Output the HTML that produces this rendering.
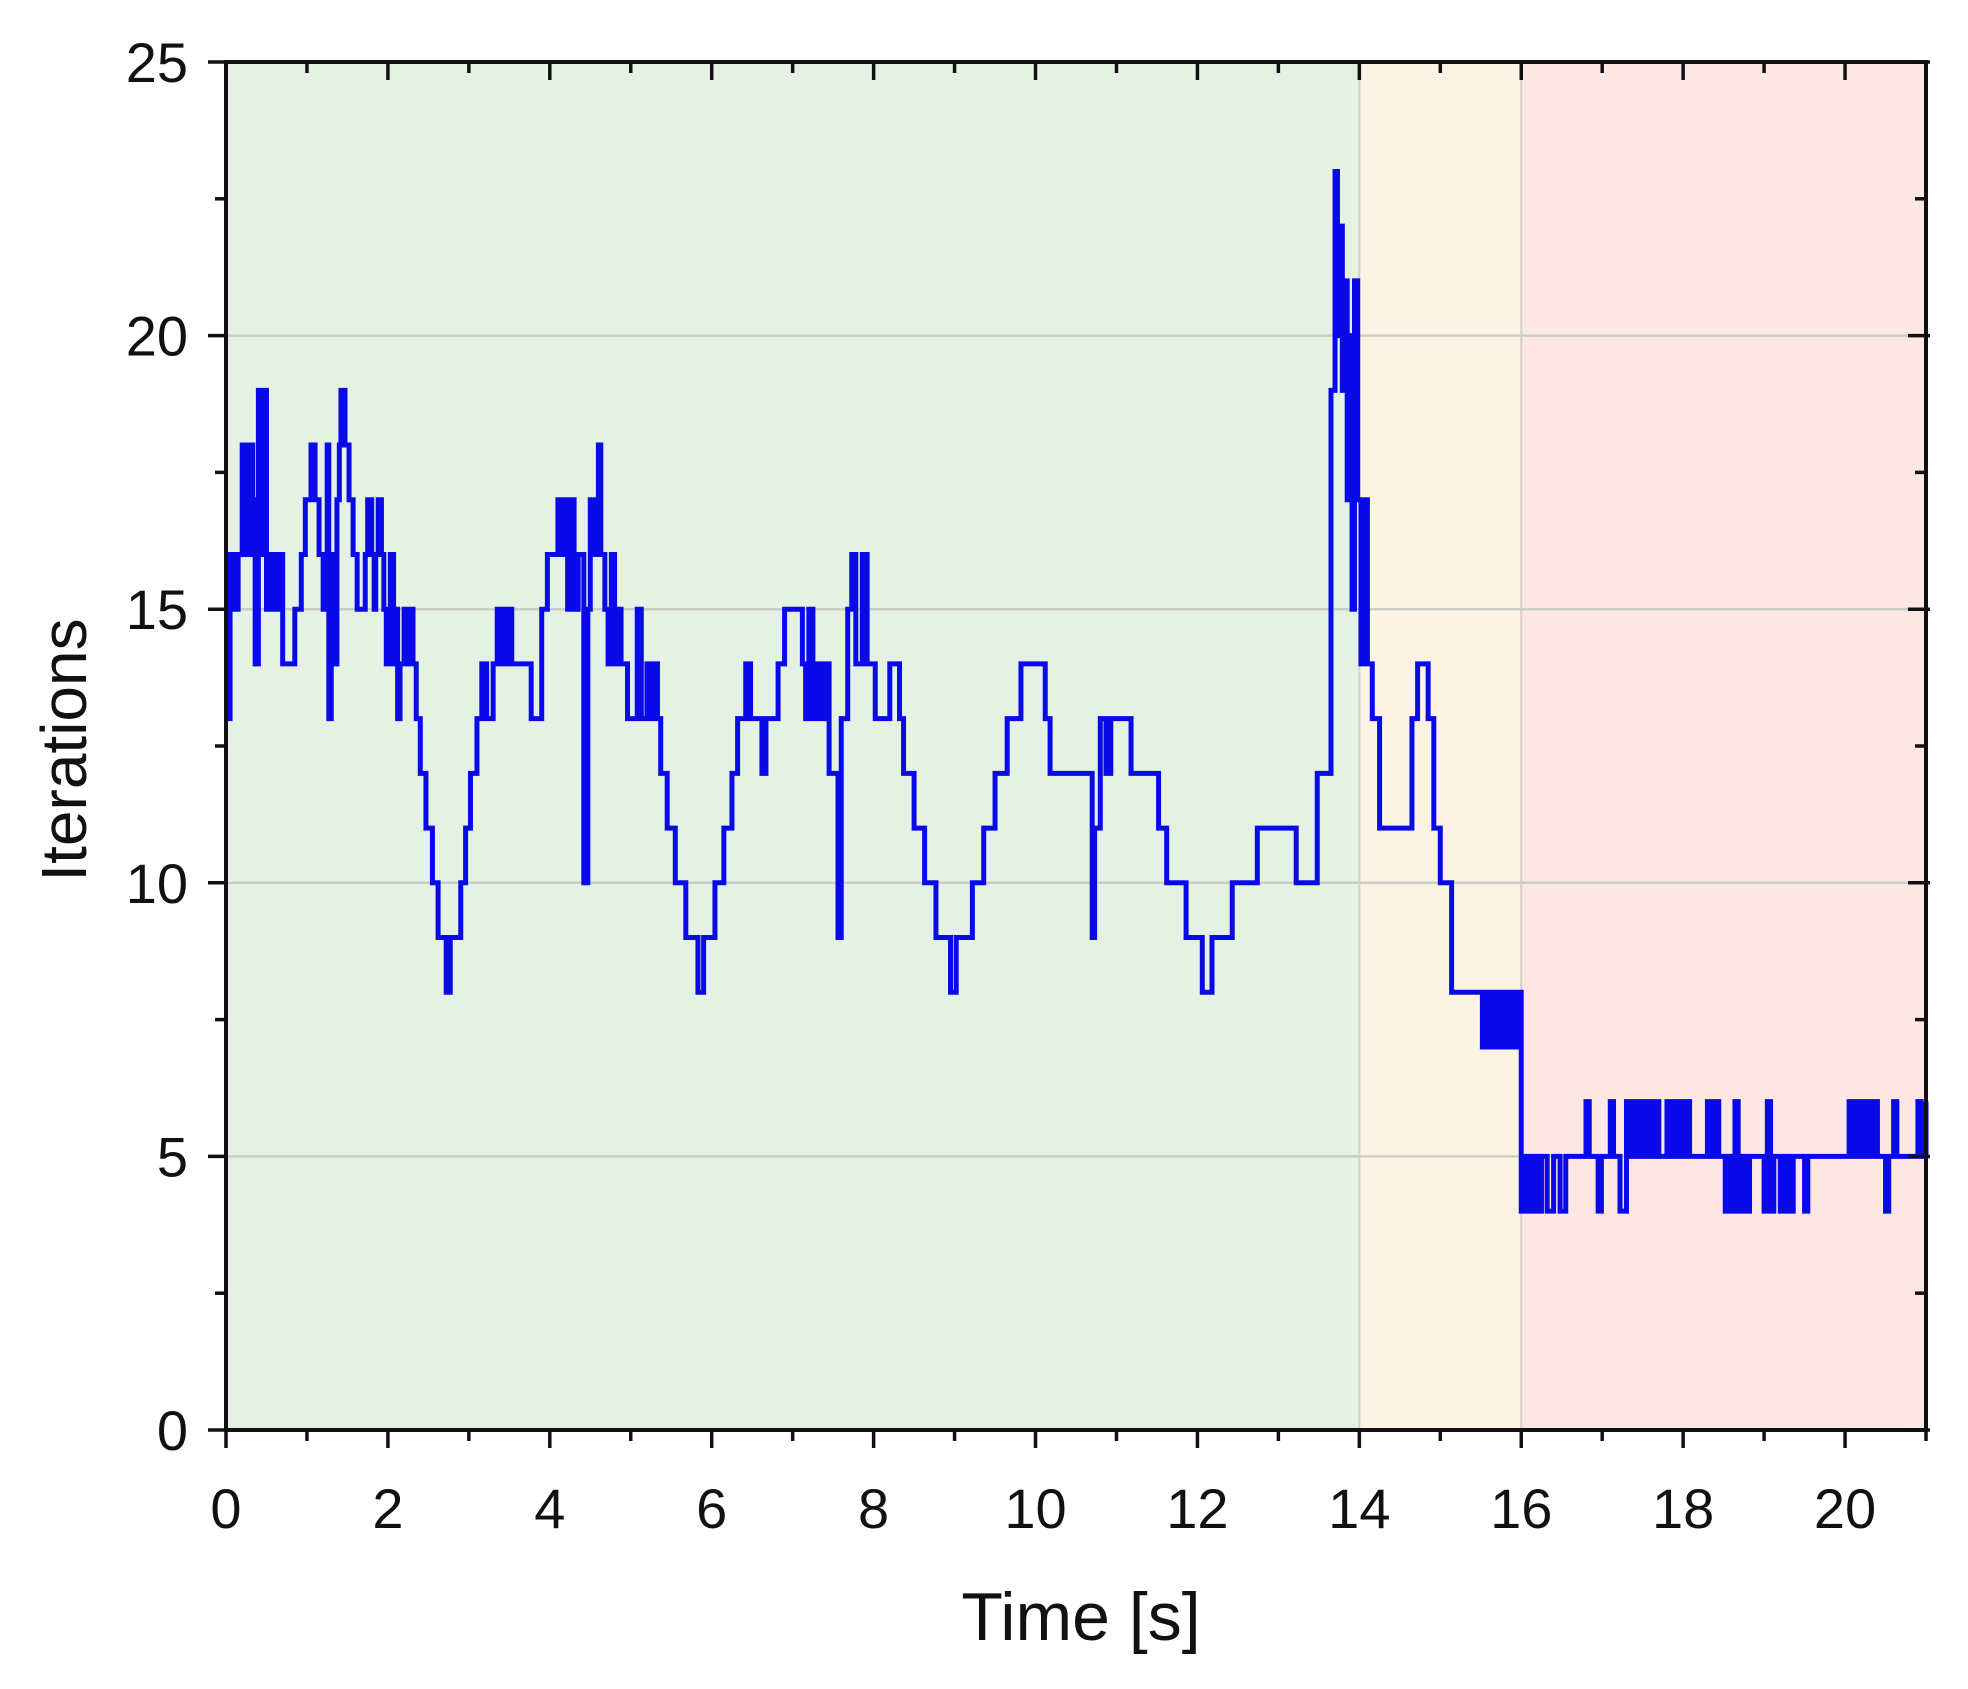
<!DOCTYPE html>
<html><head><meta charset="utf-8"><style>
html,body{margin:0;padding:0;background:#fff;}
svg{display:block;font-family:"Liberation Sans",Arial,sans-serif;}
</style></head><body>
<svg id="chart" width="1968" height="1689" viewBox="0 0 1968 1689" xmlns="http://www.w3.org/2000/svg">
<g id="bg"></g>
<g id="grid"></g>
<path id="series" fill="none" stroke="#0a0ae8" stroke-width="5" stroke-linejoin="miter"></path>
<g id="axes"></g>
<text x="1081" y="1640" font-size="68" text-anchor="middle" fill="#111">Time [s]</text>
<text x="0" y="0" font-size="64" text-anchor="middle" fill="#111" transform="translate(86,750) rotate(-90)">Iterations</text>
</svg>
<script>
const times = [
0,0.05,0.1,0.15,0.2,0.25,0.3,0.33,0.36,0.4,0.43,0.47,0.5,0.55,0.6,0.65,0.7,0.85,0.93,0.98,1.05,1.1,1.15,1.2,1.25,1.27,1.3,1.33,1.37,1.4,1.42,1.47,1.52,1.57,1.62,1.67,1.72,1.75,1.8,1.83,1.85,1.88,1.92,1.95,1.98,2.03,2.07,2.1,2.12,2.15,2.2,2.25,2.28,2.31,2.35,
2.4,2.47,2.55,2.62,2.72,2.77,2.9,2.96,3.02,3.1,3.16,3.22,3.3,3.35,3.38,3.42,3.45,3.5,3.53,3.77,3.9,3.97,4.1,4.15,4.2,4.22,4.27,4.3,4.35,4.42,4.47,4.5,4.55,4.6,4.63,4.68,4.72,4.76,4.8,4.85,4.88,4.96,5.08,5.13,5.2,5.25,5.3,5.33,5.37,5.45,
5.55,5.68,5.83,5.9,6.04,6.15,6.25,6.32,6.42,6.48,6.62,6.67,6.82,6.9,7.12,7.16,7.2,7.25,7.3,7.35,7.4,7.45,7.56,7.6,7.68,7.73,7.78,7.86,7.92,8.02,8.2,8.32,8.37,8.5,8.63,8.77,8.95,9.02,9.22,9.36,9.5,9.65,9.82,10.12,10.18,10.7,10.73,10.8,10.87,10.93,
11.0,11.18,11.52,11.62,11.86,12.06,12.18,12.43,12.74,13.22,13.48,13.65,13.7,13.73,13.76,13.79,13.82,13.85,13.88,13.91,13.94,13.98,14.02,14.06,14.1,14.16,14.25,14.65,14.72,14.85,14.92,15.0,15.14,
15.52,15.56,15.6,15.64,15.7,15.75,15.8,15.84,15.9,15.95,
16.0,16.05,16.1,16.15,16.2,16.25,16.32,16.4,16.48,16.55,16.6,16.8,16.84,16.95,16.99,17.1,17.14,17.22,17.3,17.34,17.38,17.42,17.46,17.5,17.54,17.6,17.64,17.7,17.8,17.84,17.88,17.92,17.96,18.0,18.04,18.08,18.12,18.3,18.34,18.4,18.44,18.52,18.56,18.6,18.64,18.68,18.72,18.78,18.82,19.0,19.04,19.08,19.12,19.2,19.24,19.3,19.36,19.42,19.5,19.54,20.05,20.09,20.15,20.2,20.24,20.3,20.34,20.4,20.5,20.54,20.6,20.64,20.9,20.94,21.0];
const values = [
13,16,15,16,18,16,18,17,14,19,16,19,15,16,15,16,14,15,16,17,18,17,16,15,18,13,16,14,17,18,19,18,17,16,15,15,16,17,16,15,16,17,16,15,14,16,14,15,13,14,15,14,15,14,13,
12,11,10,9,8,9,10,11,12,13,14,13,14,15,14,15,14,15,14,13,15,16,17,16,17,15,17,15,16,10,15,17,16,18,16,15,14,16,14,15,14,13,15,13,14,13,14,13,12,11,
10,9,8,9,10,11,12,13,14,13,12,13,14,15,14,13,15,13,14,13,14,12,9,13,15,16,14,16,14,13,14,13,12,11,10,9,8,9,10,11,12,13,14,13,12,9,11,13,12,13,
13,12,11,10,9,8,9,10,11,10,12,19,23,20,22,19,21,17,20,15,21,17,14,17,14,13,11,13,14,13,11,10,8,
7,8,7,8,7,8,7,8,7,8,
4,5,4,5,4,5,4,5,4,5,5,6,5,4,5,6,5,4,6,5,6,5,6,5,6,5,6,5,6,5,6,5,6,5,6,5,5,6,5,6,5,4,5,4,6,4,5,4,5,4,6,4,5,4,5,4,5,5,4,5,6,5,6,5,6,5,6,5,4,5,6,5,6,5,6];
const xTicks = [0,2,4,6,8,10,12,14,16,18,20];
const yTicks = [0,5,10,15,20,25];
const regionStarts = [0,14,16];
const regionEnds = [14,16,21];
const regionColors = ["#e5f2e3","#fdf3e4","#fde7e4"];

const L=226,R=1926,T=62,B=1430,XMAX=21,YMAX=25;
const sx=v=>L+(R-L)*v/XMAX, sy=v=>B-(B-T)*v/YMAX;
const NS="http://www.w3.org/2000/svg";
function mk(tag,parent,attrs){const e=document.createElementNS(NS,tag);for(const k in attrs)e.setAttribute(k,attrs[k]);parent.appendChild(e);return e;}
const bg=document.getElementById('bg'),grid=document.getElementById('grid'),axes=document.getElementById('axes');
regionStarts.forEach((s,i)=>{
  const r=mk('rect',bg,{x:sx(s),y:T,width:sx(regionEnds[i])-sx(s),height:B-T,fill:regionColors[i]});
  
  
  if(i>0){const l=mk('line',bg,{x1:sx(s),x2:sx(s),y1:T,y2:B,stroke:'#d6d0c8','stroke-width':2});
    
    }
});
yTicks.forEach(v=>{if(v>0&&v<YMAX){const g=mk('line',grid,{x1:L,x2:R,y1:sy(v),y2:sy(v),stroke:'#c9cfc6','stroke-width':2.5});
  
  }});
const n=Math.min(times.length,values.length);
let d='';
for(let i=0;i<n;i++){
  const x=sx(times[i]),y=sy(values[i]);
  if(i===0)d+='M'+x+' '+y;else d+='H'+x+'V'+y;
}
d+='H'+sx(XMAX);
document.getElementById('series').setAttribute('d',d);
const fr=mk('rect',axes,{x:L,y:T,width:R-L,height:B-T,fill:'none',stroke:'#111','stroke-width':4});


for(let v=0;v<=XMAX;v++){
  const major=v%2===0,len=major?18:11,x=sx(v);
  mk('line',axes,{x1:x,x2:x,y1:B,y2:B+len,stroke:'#111','stroke-width':3.5});
  mk('line',axes,{x1:x,x2:x,y1:T,y2:T+len,stroke:'#111','stroke-width':3.5});
}
for(let v=0;v<=YMAX;v+=2.5){
  const major=v%5===0,len=major?18:11,y=sy(v);
  mk('line',axes,{x1:L-len,x2:L,y1:y,y2:y,stroke:'#111','stroke-width':3.5});
  mk('line',axes,{x1:R-len,x2:R+(major?4:0),y1:y,y2:y,stroke:'#111','stroke-width':3.5});
}
xTicks.forEach(v=>{const t=mk('text',axes,{x:sx(v),y:1528,'font-size':56,'text-anchor':'middle',fill:'#111'});t.textContent=v;
  
  });
yTicks.forEach(v=>{const t=mk('text',axes,{x:188,y:sy(v)+20,'font-size':56,'text-anchor':'end',fill:'#111'});t.textContent=v;
  
  });
</script>
</body></html>
